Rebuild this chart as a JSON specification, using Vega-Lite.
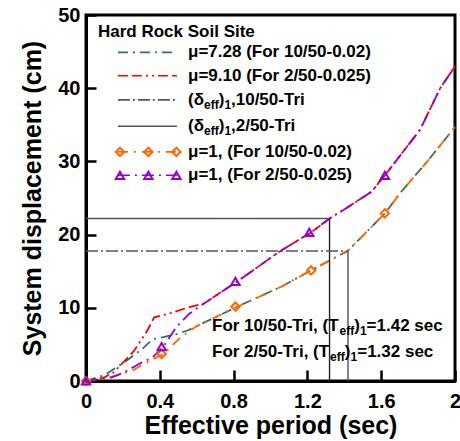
{
  "$schema": "https://vega.github.io/schema/vega-lite/v6.json",
  "width": 369,
  "height": 366,
  "autosize": {"type": "none"},
  "padding": {"left": 86, "top": 15, "right": 5, "bottom": 60},
  "background": "white",
  "config": {
    "font": "Liberation Sans",
    "view": {"stroke": "black", "strokeWidth": 3},
    "axis": {
      "domainColor": "black",
      "domainWidth": 3,
      "tickColor": "black",
      "tickWidth": 2.5,
      "grid": false,
      "labelFont": "Liberation Sans",
      "labelFontWeight": "bold",
      "labelFontSize": 20,
      "labelColor": "black",
      "titleFont": "Liberation Sans",
      "titleFontWeight": "bold",
      "titleFontSize": 25,
      "titleColor": "black"
    }
  },
  "datasets": {
    "curves": [
      {"s": "teal", "x": 0, "y": 0}, {"s": "teal", "x": 0.1, "y": 0.8}, {"s": "teal", "x": 0.21, "y": 2.6}, {"s": "teal", "x": 0.31, "y": 4.5}, {"s": "teal", "x": 0.36, "y": 5.7}, {"s": "teal", "x": 0.42, "y": 6.0}, {"s": "teal", "x": 0.49, "y": 6.4}, {"s": "teal", "x": 0.55, "y": 6.9}, {"s": "teal", "x": 0.6, "y": 7.5}, {"s": "teal", "x": 0.7, "y": 8.7}, {"s": "teal", "x": 0.82, "y": 10.15}, {"s": "teal", "x": 1.06, "y": 12.9}, {"s": "teal", "x": 1.22, "y": 15.1}, {"s": "teal", "x": 1.42, "y": 17.8}, {"s": "teal", "x": 1.62, "y": 22.9}, {"s": "teal", "x": 1.71, "y": 25.9}, {"s": "teal", "x": 1.85, "y": 30.0}, {"s": "teal", "x": 2.0, "y": 34.7},
      {"s": "red", "x": 0, "y": 0}, {"s": "red", "x": 0.1, "y": 0.5}, {"s": "red", "x": 0.15, "y": 1.2}, {"s": "red", "x": 0.26, "y": 4.1}, {"s": "red", "x": 0.33, "y": 6.8}, {"s": "red", "x": 0.37, "y": 8.7}, {"s": "red", "x": 0.45, "y": 9.2}, {"s": "red", "x": 0.56, "y": 10.1}, {"s": "red", "x": 0.64, "y": 10.6}, {"s": "red", "x": 0.82, "y": 13.6}, {"s": "red", "x": 1.05, "y": 17.7}, {"s": "red", "x": 1.22, "y": 20.3}, {"s": "red", "x": 1.32, "y": 22.2}, {"s": "red", "x": 1.41, "y": 23.6}, {"s": "red", "x": 1.55, "y": 25.9}, {"s": "red", "x": 1.59, "y": 27.2}, {"s": "red", "x": 1.62, "y": 28.1}, {"s": "red", "x": 1.81, "y": 34.3}, {"s": "red", "x": 1.92, "y": 40.0}, {"s": "red", "x": 2.0, "y": 43.0},
      {"s": "orange", "x": 0, "y": 0}, {"s": "orange", "x": 0.1, "y": 0.3}, {"s": "orange", "x": 0.2, "y": 1.0}, {"s": "orange", "x": 0.25, "y": 1.4}, {"s": "orange", "x": 0.32, "y": 2.4}, {"s": "orange", "x": 0.42, "y": 3.7}, {"s": "orange", "x": 0.51, "y": 5.9}, {"s": "orange", "x": 0.6, "y": 7.5}, {"s": "orange", "x": 0.7, "y": 8.7}, {"s": "orange", "x": 0.82, "y": 10.15}, {"s": "orange", "x": 1.06, "y": 12.9}, {"s": "orange", "x": 1.22, "y": 15.1}, {"s": "orange", "x": 1.42, "y": 17.8}, {"s": "orange", "x": 1.62, "y": 22.9}, {"s": "orange", "x": 1.71, "y": 25.9}, {"s": "orange", "x": 1.85, "y": 30.0}, {"s": "orange", "x": 2.0, "y": 34.7},
      {"s": "purple", "x": 0, "y": 0}, {"s": "purple", "x": 0.14, "y": 0.5}, {"s": "purple", "x": 0.2, "y": 1.1}, {"s": "purple", "x": 0.3, "y": 2.5}, {"s": "purple", "x": 0.36, "y": 3.2}, {"s": "purple", "x": 0.42, "y": 4.7}, {"s": "purple", "x": 0.49, "y": 7.4}, {"s": "purple", "x": 0.56, "y": 9.2}, {"s": "purple", "x": 0.64, "y": 10.6}, {"s": "purple", "x": 0.82, "y": 13.6}, {"s": "purple", "x": 1.05, "y": 17.7}, {"s": "purple", "x": 1.22, "y": 20.3}, {"s": "purple", "x": 1.32, "y": 22.2}, {"s": "purple", "x": 1.41, "y": 23.6}, {"s": "purple", "x": 1.55, "y": 25.9}, {"s": "purple", "x": 1.59, "y": 27.2}, {"s": "purple", "x": 1.62, "y": 28.1}, {"s": "purple", "x": 1.81, "y": 34.3}, {"s": "purple", "x": 1.92, "y": 40.0}, {"s": "purple", "x": 2.0, "y": 43.0}
    ],
    "refs": [
      {"s": "d250", "x": 0, "x2": 1.32, "y": 22.2, "y2": 22.2},
      {"s": "v", "x": 1.32, "x2": 1.32, "y": 22.2, "y2": 0},
      {"s": "d1050", "x": 0, "x2": 1.42, "y": 17.76, "y2": 17.76},
      {"s": "d250", "x": 1.42, "x2": 1.42, "y": 17.76, "y2": 0}
    ],
    "legendLines": [
      {"s": "teal", "x": 0.173, "x2": 0.493, "y": 44.9},
      {"s": "red", "x": 0.173, "x2": 0.493, "y": 41.7},
      {"s": "d1050", "x": 0.173, "x2": 0.493, "y": 38.4},
      {"s": "d250", "x": 0.173, "x2": 0.493, "y": 34.8},
      {"s": "orange", "x": 0.173, "x2": 0.493, "y": 31.3},
      {"s": "purple", "x": 0.173, "x2": 0.493, "y": 28.1}
    ],
    "markers": [
      {"s": "orange", "x": 0, "y": 0}, {"s": "orange", "x": 0.41, "y": 3.7}, {"s": "orange", "x": 0.81, "y": 10.15}, {"s": "orange", "x": 1.22, "y": 15.1}, {"s": "orange", "x": 1.62, "y": 22.9},
      {"s": "purple", "x": 0, "y": 0}, {"s": "purple", "x": 0.41, "y": 4.7}, {"s": "purple", "x": 0.81, "y": 13.6}, {"s": "purple", "x": 1.21, "y": 20.3}, {"s": "purple", "x": 1.62, "y": 28.1},
      {"s": "orange", "x": 0.184, "y": 31.3}, {"s": "orange", "x": 0.338, "y": 31.3}, {"s": "orange", "x": 0.49, "y": 31.3},
      {"s": "purple", "x": 0.184, "y": 28.1}, {"s": "purple", "x": 0.338, "y": 28.1}, {"s": "purple", "x": 0.49, "y": 28.1}
    ],
    "texts": [
      {"k": "main", "x": 0.065, "y": 47.7, "t": "Hard Rock Soil Site"},
      {"k": "main", "x": 0.553, "y": 44.9, "t": "μ=7.28 (For 10/50-0.02)"},
      {"k": "main", "x": 0.553, "y": 41.7, "t": "μ=9.10 (For 2/50-0.025)"},
      {"k": "main", "x": 0.553, "y": 38.4, "t": "(δ"},
      {"k": "sub", "x": 0.64, "y": 38.4, "t": "eff"},
      {"k": "main", "x": 0.719, "y": 38.4, "t": ")"},
      {"k": "sub", "x": 0.75, "y": 38.4, "t": "1"},
      {"k": "main", "x": 0.786, "y": 38.4, "t": ",10/50-Tri"},
      {"k": "main", "x": 0.553, "y": 34.8, "t": "(δ"},
      {"k": "sub", "x": 0.64, "y": 34.8, "t": "eff"},
      {"k": "main", "x": 0.719, "y": 34.8, "t": ")"},
      {"k": "sub", "x": 0.75, "y": 34.8, "t": "1"},
      {"k": "main", "x": 0.786, "y": 34.8, "t": ",2/50-Tri"},
      {"k": "main", "x": 0.553, "y": 31.3, "t": "μ=1, (For 10/50-0.02)"},
      {"k": "main", "x": 0.553, "y": 28.1, "t": "μ=1, (For 2/50-0.025)"},
      {"k": "main", "x": 0.683, "y": 7.55, "t": "For 10/50-Tri, (T"},
      {"k": "sub", "x": 1.374, "y": 7.55, "t": "eff"},
      {"k": "main", "x": 1.454, "y": 7.55, "t": ")"},
      {"k": "sub", "x": 1.485, "y": 7.55, "t": "1"},
      {"k": "main", "x": 1.521, "y": 7.55, "t": "=1.42 sec"},
      {"k": "main", "x": 0.683, "y": 3.9, "t": "For 2/50-Tri, (T"},
      {"k": "sub", "x": 1.323, "y": 3.9, "t": "eff"},
      {"k": "main", "x": 1.403, "y": 3.9, "t": ")"},
      {"k": "sub", "x": 1.434, "y": 3.9, "t": "1"},
      {"k": "main", "x": 1.47, "y": 3.9, "t": "=1.32 sec"}
    ]
  },
  "layer": [
    {
      "data": {"name": "curves"},
      "mark": {"type": "line", "strokeWidth": 1.8},
      "encoding": {
        "x": {
          "field": "x", "type": "quantitative",
          "scale": {"domain": [0, 2], "nice": false, "zero": false},
          "axis": {
            "title": "Effective period (sec)",
            "values": [0, 0.2, 0.4, 0.6, 0.8, 1.0, 1.2, 1.4, 1.6, 1.8, 2.0],
            "labelExpr": "round(datum.value*10) % 4 == 0 ? toString(datum.value) : ''",
            "tickSize": {"condition": {"test": "round(datum.value*10) % 4 == 0", "value": -11}, "value": -6},
            "labelPadding": 21,
            "labelFlush": false,
            "titlePadding": 2
          }
        },
        "y": {
          "field": "y", "type": "quantitative",
          "scale": {"domain": [0, 50], "nice": false},
          "axis": {
            "title": "System displacement (cm)",
            "values": [0, 5, 10, 15, 20, 25, 30, 35, 40, 45, 50],
            "labelExpr": "datum.value % 10 == 0 ? toString(datum.value) : ''",
            "tickSize": {"condition": {"test": "datum.value % 10 == 0", "value": -10}, "value": -6},
            "labelPadding": 16,
            "labelFlush": false,
            "titlePadding": 12
          }
        },
        "color": {
          "field": "s", "type": "nominal", "legend": null,
          "scale": {"domain": ["teal", "red", "orange", "purple", "d1050", "d250", "v"], "range": ["#2e6e6e", "#ff0000", "#ff6600", "#9900cc", "#555555", "#555555", "#222222"]}
        },
        "strokeDash": {
          "field": "s", "type": "nominal", "legend": null,
          "scale": {"domain": ["teal", "red", "orange", "purple", "d1050", "d250", "v"], "range": [[10, 5, 2, 5], [10, 4, 10, 4, 2, 4, 2, 4], [10, 6, 2, 6], [12, 5, 2, 5], [12, 3, 2, 3], [1, 0], [1, 0]]}
        }
      }
    },
    {
      "data": {"name": "refs"},
      "mark": {"type": "rule", "strokeWidth": 1.4},
      "encoding": {
        "x": {"field": "x", "type": "quantitative"},
        "x2": {"field": "x2"},
        "y": {"field": "y", "type": "quantitative"},
        "y2": {"field": "y2"},
        "color": {"field": "s", "type": "nominal", "legend": null},
        "strokeDash": {"field": "s", "type": "nominal", "legend": null}
      }
    },
    {
      "data": {"name": "legendLines"},
      "mark": {"type": "rule", "strokeWidth": 1.6},
      "encoding": {
        "x": {"field": "x", "type": "quantitative"},
        "x2": {"field": "x2"},
        "y": {"field": "y", "type": "quantitative"},
        "color": {"field": "s", "type": "nominal", "legend": null},
        "strokeDash": {"field": "s", "type": "nominal", "legend": null}
      }
    },
    {
      "data": {"name": "markers"},
      "mark": {"type": "point", "filled": false, "strokeWidth": 2, "size": 70, "opacity": 1},
      "encoding": {
        "x": {"field": "x", "type": "quantitative"},
        "y": {"field": "y", "type": "quantitative"},
        "color": {"field": "s", "type": "nominal", "legend": null},
        "shape": {"field": "s", "type": "nominal", "legend": null, "scale": {"domain": ["orange", "purple"], "range": ["diamond", "triangle-up"]}}
      }
    },
    {
      "data": {"name": "texts"},
      "transform": [{"filter": "datum.k == 'main'"}],
      "mark": {"type": "text", "align": "left", "baseline": "middle", "font": "Liberation Sans", "fontWeight": "bold", "fontSize": 17, "color": "black"},
      "encoding": {
        "x": {"field": "x", "type": "quantitative"},
        "y": {"field": "y", "type": "quantitative"},
        "text": {"field": "t"}
      }
    },
    {
      "data": {"name": "texts"},
      "transform": [{"filter": "datum.k == 'sub'"}],
      "mark": {"type": "text", "align": "left", "baseline": "middle", "dy": 5, "font": "Liberation Sans", "fontWeight": "bold", "fontSize": 12, "color": "black"},
      "encoding": {
        "x": {"field": "x", "type": "quantitative"},
        "y": {"field": "y", "type": "quantitative"},
        "text": {"field": "t"}
      }
    }
  ]
}
